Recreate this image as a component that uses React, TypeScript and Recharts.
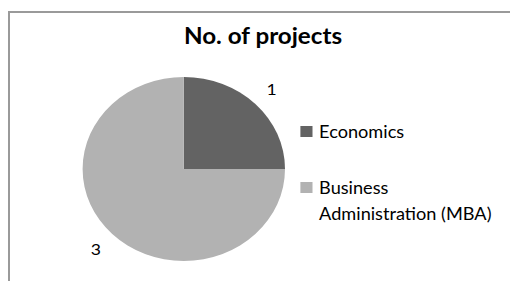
import { PieChart, Pie, Cell, Legend } from 'recharts';

const categories = ['Economics', 'Business Administration (MBA)'];
const projectCounts = [1, 3];
const sliceColors = ['#636363', '#b2b2b2'];

const data = categories.map((name, i) => ({ name, value: projectCounts[i], fill: sliceColors[i] }));

const FONT = 'Lato, "Open Sans", sans-serif';
const STRETCH = 1.1; // the original is a bit wider than tall

const RADIAN = Math.PI / 180;

function outsideLabel({ cx, cy, midAngle, outerRadius, value }: any) {
  const r = outerRadius + 21;
  const x = cx + r * Math.cos(-midAngle * RADIAN);
  const y = cy + r * Math.sin(-midAngle * RADIAN);
  return (
    <text x={x} y={y} textAnchor="middle" dominantBaseline="central"
      fontSize={16} fontFamily={FONT} fill="#000">
      {value}
    </text>
  );
}

function renderLegend({ payload }: any) {
  const items = [...(payload || [])].sort(
    (a: any, b: any) => categories.indexOf(a.value) - categories.indexOf(b.value)
  );
  return (
    <div style={{ fontFamily: FONT, fontSize: 16.5, color: '#000' }}>
      {items.map((entry: any, idx: number) => (
        <div key={idx} style={{ display: 'flex', alignItems: 'flex-start', marginBottom: idx === 0 ? 30 : 0 }}>
          <div style={{ width: 11, height: 11, background: entry.color, marginTop: 7, marginRight: 6, flexShrink: 0 }} />
          <div style={{ lineHeight: '26px', width: 170 }}>
            {entry.value === 'Business Administration (MBA)' ? (
              <>Business<br />Administration (MBA)</>
            ) : entry.value}
          </div>
        </div>
      ))}
    </div>
  );
}

export default function App() {
  return (
    <div style={{
      marginTop: 3,
      width: 510,
      height: 270,
      borderTop: '2px solid #9a9a9a',
      borderLeft: '2px solid #9a9a9a',
      overflow: 'hidden',
      position: 'relative',
    }}>
      <div style={{ transform: `scaleX(${STRETCH})`, transformOrigin: '0 0', width: 460, height: 268, position: 'relative' }}>
        <div style={{
          position: 'absolute', left: 0, width: 460, top: 9, textAlign: 'center',
          fontFamily: FONT, fontWeight: 700, fontSize: 22, color: '#000',
        }}>
          No. of projects
        </div>
        <PieChart width={460} height={268} margin={{ top: 0, right: 0, bottom: 0, left: 0 }}>
          <Pie
            data={data}
            dataKey="value"
            nameKey="name"
            cx={158}
            cy={156}
            outerRadius={92}
            startAngle={90}
            endAngle={-270}
            stroke="none"
            label={outsideLabel}
            labelLine={false}
            isAnimationActive={false}
          >
            {data.map((d, idx) => (
              <Cell key={idx} fill={d.fill} />
            ))}
          </Pie>
          <Legend
            layout="vertical"
            align="right"
            verticalAlign="top"
            content={renderLegend}
            wrapperStyle={{ left: 264, top: 106, width: 195, right: 'auto' }}
          />
        </PieChart>
      </div>
    </div>
  );
}
